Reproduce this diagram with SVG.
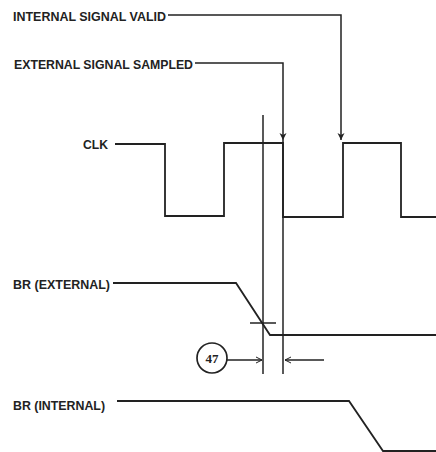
<svg xmlns="http://www.w3.org/2000/svg" width="436" height="452" viewBox="0 0 436 452">
<style>
.lbl{font-family:"Liberation Sans",Arial,sans-serif;font-weight:bold;font-size:12.5px;fill:#222}
.w{fill:none;stroke:#222;stroke-width:1.8;stroke-linejoin:miter}
.t{fill:none;stroke:#222;stroke-width:1.5}
</style>
<defs>
<marker id="ah" markerWidth="8" markerHeight="8" refX="7" refY="4" orient="auto" markerUnits="userSpaceOnUse">
<path d="M0,0.5 L7,4 L0,7.5 L2,4 Z" fill="#222"/>
</marker>
<marker id="oh" markerWidth="8" markerHeight="8" refX="7" refY="4" orient="auto" markerUnits="userSpaceOnUse">
<path d="M1,1 L7,4 L1,7" fill="none" stroke="#222" stroke-width="1"/>
</marker>
</defs>
<rect width="436" height="452" fill="#fff"/>
<g id="internal-signal-valid">
<text class="lbl" x="13" y="20.5" textLength="153" lengthAdjust="spacingAndGlyphs">INTERNAL SIGNAL VALID</text>
</g>
<g id="external-signal-sampled">
<text class="lbl" x="14" y="69" textLength="179" lengthAdjust="spacingAndGlyphs">EXTERNAL SIGNAL SAMPLED</text>
</g>
<g id="clk">
<text class="lbl" x="83" y="149" textLength="25" lengthAdjust="spacingAndGlyphs">CLK</text>
<path class="w" d="M115,144 H165 V216 H224 V143 H283 V217 H343 V143 H401 V217 H436"/>
</g>
<g id="br-external">
<text class="lbl" x="13" y="289" textLength="97" lengthAdjust="spacingAndGlyphs">BR (EXTERNAL)</text>
<path class="w" d="M113,283 H236 L270,335 H436"/>
<path class="t" d="M250,323 H276"/>
</g>
<g id="br-internal">
<text class="lbl" x="13" y="409.5" textLength="92" lengthAdjust="spacingAndGlyphs">BR (INTERNAL)</text>
<path class="w" d="M117,401 H349 L383,451 H436"/>
</g>
<g id="t47">
<circle cx="212" cy="358" r="15" fill="#fff" stroke="#222" stroke-width="1.7"/>
<text x="212" y="363" text-anchor="middle" font-family="Liberation Serif,Times New Roman,serif" font-weight="bold" font-size="13" fill="#222">47</text>
</g>
<g id="connectors">
<path class="t" d="M168,15 H341 V140" marker-end="url(#ah)"/>
<path class="t" d="M195,63 H283 V140" marker-end="url(#ah)"/>
<path class="t" d="M283,140 V374"/>
<path class="t" d="M263,115 V374"/>
<path class="t" d="M227,360 H262" marker-end="url(#oh)"/>
<path class="t" d="M324,360 H285" marker-end="url(#oh)"/>
</g>
</svg>
